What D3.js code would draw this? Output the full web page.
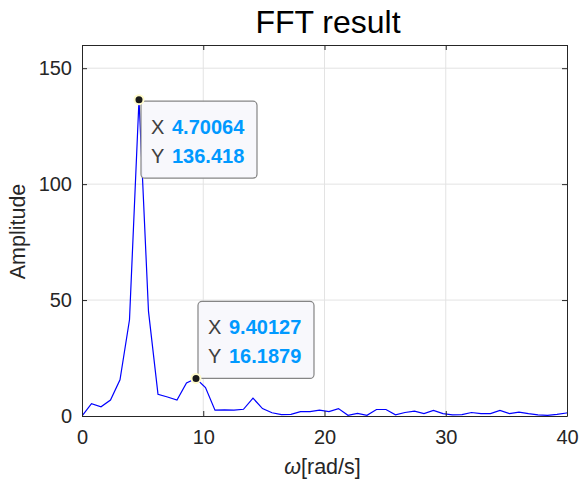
<!DOCTYPE html>
<html><head><meta charset="utf-8">
<script src="https://cdn.jsdelivr.net/npm/d3@7"></script>
<style>body{margin:0;background:#fff}svg{display:block}</style>
</head><body><div id="chart"></div>
<script>
const dOmega = 0.783439;
const amplitude = [0,5.3,4.0,6.9,15.6,41.5,136.418,45.1,9.4,8.2,6.9,14.2,16.1879,12.3,2.5,2.6,2.5,2.9,7.7,3.2,1.4,0.6,0.7,1.9,1.9,2.5,1.9,3.2,0.3,1.1,0.3,2.8,2.8,0.5,1.5,2.1,1.0,2.4,1.0,0.5,0.6,1.5,1.0,1.0,2.4,1.0,1.7,1.0,0.5,0.3,0.7,1.3,1.5];
const xTicks = [0,10,20,30,40];
const yTicks = [0,50,100,150];
const tips = [{k:6, xs:"4.70064", ys:"136.418", below:true},{k:12, xs:"9.40127", ys:"16.1879", below:false}];

const W=579,H=482, m={l:82,r:12,t:45,b:66};
const FONT="'Liberation Sans', Arial, sans-serif";
const svg=d3.select("#chart").append("svg").attr("width",W).attr("height",H)
  .style("font-family",FONT);
const x=d3.scaleLinear().domain([0,40]).range([m.l,W-m.r]);
const y=d3.scaleLinear().domain([0,160]).range([H-m.b,m.t]);
const data=amplitude.map((a,i)=>({w:i*dOmega,a}));

// grid
svg.append("g").selectAll("line").data(xTicks.slice(1,-1)).join("line")
  .attr("x1",d=>x(d)).attr("x2",d=>x(d)).attr("y1",y(0)).attr("y2",y(160))
  .attr("stroke","#e3e3e3");
svg.append("g").selectAll("line").data(yTicks.slice(1)).join("line")
  .attr("y1",d=>y(d)).attr("y2",d=>y(d)).attr("x1",x(0)).attr("x2",x(40))
  .attr("stroke","#e3e3e3");

svg.append("defs").append("clipPath").attr("id","clip").append("rect")
  .attr("x",x(0)).attr("y",y(160)).attr("width",x(40)-x(0)).attr("height",y(0)-y(160));

svg.append("path").datum(data).attr("clip-path","url(#clip)")
  .attr("fill","none").attr("stroke","#0000ff").attr("stroke-width",1.2)
  .attr("d",d3.line().x(d=>x(d.w)).y(d=>y(d.a)));

// axes
const tc="#262626";
const xa=svg.append("g").attr("transform",`translate(0,${y(0)})`)
  .call(d3.axisBottom(x).tickValues(xTicks).tickSizeInner(-5).tickSizeOuter(0).tickPadding(14));
const xt=svg.append("g").attr("transform",`translate(0,${y(160)})`)
  .call(d3.axisTop(x).tickValues(xTicks).tickSizeInner(-5).tickSizeOuter(0).tickFormat(""));
const ya=svg.append("g").attr("transform",`translate(${x(0)},0)`)
  .call(d3.axisLeft(y).tickValues(yTicks).tickSizeInner(-5).tickSizeOuter(0).tickPadding(10));
const yr=svg.append("g").attr("transform",`translate(${x(40)},0)`)
  .call(d3.axisRight(y).tickValues(yTicks).tickSizeInner(-5).tickSizeOuter(0).tickFormat(""));
[xa,xt,ya,yr].forEach(g=>{
  g.select(".domain").attr("stroke",tc).attr("stroke-width",1);
  g.selectAll(".tick line").attr("stroke",tc);
  g.selectAll("text").attr("fill",tc).style("font-size","20px").style("font-family",FONT);
});

svg.append("text").attr("x",328).attr("y",33).attr("text-anchor","middle")
  .attr("fill","#000").style("font-size","32px").text("FFT result");
svg.append("text").attr("transform",`translate(25,${(y(0)+y(160))/2+1}) rotate(-90)`)
  .attr("text-anchor","middle").attr("fill",tc).style("font-size","21.5px").text("Amplitude");
const xl=svg.append("text").attr("x",(x(0)+x(40))/2-2).attr("y",474).attr("text-anchor","middle")
  .attr("fill",tc).style("font-size","21.5px");
xl.append("tspan").style("font-style","italic").text("ω");
xl.append("tspan").text("[rad/s]");

// datatips
tips.forEach(t=>{
  const d=data[t.k], px=x(d.w), py=y(d.a);
  const bw=116, bh=77;
  const bx=px+2, by=t.below? py+1.5 : py-bh;
  const g=svg.append("g");
  g.append("rect").attr("x",bx).attr("y",by).attr("width",bw).attr("height",bh).attr("rx",4)
    .attr("fill","#f8f8fc").attr("fill-opacity",0.96).attr("stroke","#858585").attr("stroke-width",1.2);
  [["X",t.xs,by+33],["Y",t.ys,by+61.5]].forEach(([lab,val,ty])=>{
    const tx=g.append("text").attr("x",bx+10).attr("y",ty).style("font-size","20px");
    tx.append("tspan").attr("fill","#404040").text(lab);
    tx.append("tspan").attr("fill","#0099ff").attr("font-weight","bold").attr("x",bx+31).text(val);
  });
  g.append("circle").attr("cx",px).attr("cy",py).attr("r",4.5)
    .attr("fill","#1a1a1a").attr("stroke","#fffbcc").attr("stroke-width",2);
});
</script></body></html>
